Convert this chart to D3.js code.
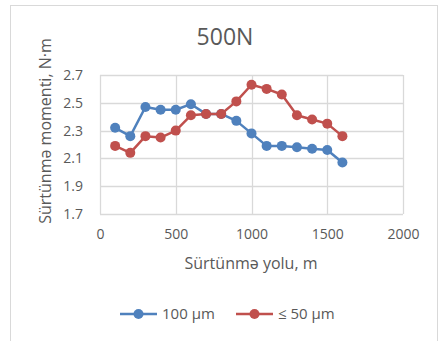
<!DOCTYPE html>
<html>
<head>
<meta charset="utf-8">
<script src="https://cdn.jsdelivr.net/npm/d3@7"></script>
<style>
  body { margin: 0; background: #fff; }
  text { font-family: "Open Sans", sans-serif; fill: #595959; }
</style>
</head>
<body>
<script>
var distance = [100, 200, 300, 400, 500, 600, 700, 800, 900, 1000, 1100, 1200, 1300, 1400, 1500, 1600];
var moment100 = [2.32, 2.26, 2.47, 2.45, 2.45, 2.49, 2.42, 2.42, 2.37, 2.28, 2.19, 2.19, 2.18, 2.17, 2.16, 2.07];
var moment50 = [2.19, 2.14, 2.26, 2.25, 2.30, 2.41, 2.42, 2.42, 2.51, 2.63, 2.60, 2.56, 2.41, 2.38, 2.35, 2.26];
var seriesNames = ["100 µm", "≤ 50 µm"];
var xTicks = [0, 500, 1000, 1500, 2000];
var yTicks = [1.7, 1.9, 2.1, 2.3, 2.5, 2.7];

var width = 440, height = 341;
var colors = ["#4F81BD", "#C0504D"];

var svg = d3.select("body").append("svg")
  .attr("width", width)
  .attr("height", height);

// chart frame
svg.append("rect")
  .attr("x", 10.5).attr("y", 5.5)
  .attr("width", 427).attr("height", 345)
  .attr("fill", "none")
  .attr("stroke", "#d9d9d9");

var x = d3.scaleLinear().domain([0, 2000]).range([100, 403]);
var y = d3.scaleLinear().domain([1.7, 2.7]).range([214, 75]);

// grid
svg.append("g").selectAll("line.h")
  .data(yTicks).enter().append("line")
  .attr("x1", x(0)).attr("x2", x(2000))
  .attr("y1", function(d){ return Math.round(y(d)) + 0.5; })
  .attr("y2", function(d){ return Math.round(y(d)) + 0.5; })
  .attr("stroke", "#d9d9d9").attr("stroke-width", 1.3);
svg.append("g").selectAll("line.v")
  .data(xTicks).enter().append("line")
  .attr("y1", y(1.7)).attr("y2", y(2.7))
  .attr("x1", function(d){ return Math.round(x(d)) + 0.5; })
  .attr("x2", function(d){ return Math.round(x(d)) + 0.5; })
  .attr("stroke", "#d9d9d9").attr("stroke-width", 1.3);

// axes (labels only)
var xAxis = svg.append("g")
  .attr("transform", "translate(0," + 214 + ")")
  .call(d3.axisBottom(x).tickValues(xTicks).tickSize(0).tickPadding(15).tickFormat(d3.format("d")));
var yAxis = svg.append("g")
  .attr("transform", "translate(100,0)")
  .call(d3.axisLeft(y).tickValues(yTicks).tickSize(0).tickPadding(17).tickFormat(d3.format(".1f")));
[xAxis, yAxis].forEach(function(a){
  a.select(".domain").remove();
  a.selectAll("text").style("font-family", "Open Sans").style("font-size", "14px").attr("fill", "#595959");
});

// series
var seriesData = [moment100, moment50];
var line = d3.line()
  .x(function(d, i){ return x(distance[i]); })
  .y(function(d){ return y(d); });

seriesData.forEach(function(vals, k){
  var g = svg.append("g");
  g.append("path")
    .datum(vals)
    .attr("d", line)
    .attr("fill", "none")
    .attr("stroke", colors[k])
    .attr("stroke-width", 2.5)
    .attr("stroke-linejoin", "round");
  g.selectAll("circle")
    .data(vals).enter().append("circle")
    .attr("cx", function(d, i){ return x(distance[i]); })
    .attr("cy", function(d){ return y(d); })
    .attr("r", 5)
    .attr("fill", colors[k]);
});

// title
svg.append("text")
  .attr("x", 225).attr("y", 45)
  .attr("text-anchor", "middle")
  .style("font-size", "23px")
  .text("500N");

// axis titles
svg.append("text")
  .attr("x", 251).attr("y", 269)
  .attr("text-anchor", "middle")
  .style("font-size", "16px")
  .text("Sürtünmə yolu, m");
svg.append("text")
  .attr("transform", "translate(51,131) rotate(-90)")
  .attr("text-anchor", "middle")
  .style("font-size", "16px")
  .text("Sürtünmə momenti, N·m");

// legend
var legendX = [120, 236];
seriesNames.forEach(function(name, k){
  var lg = svg.append("g").attr("transform", "translate(" + legendX[k] + ",314)");
  lg.append("line")
    .attr("x1", 0).attr("x2", 37)
    .attr("stroke", colors[k]).attr("stroke-width", 2.5);
  lg.append("circle")
    .attr("cx", 18.5).attr("r", 5)
    .attr("fill", colors[k]);
  lg.append("text")
    .attr("x", 42).attr("y", 5)
    .style("font-size", "15px")
    .text(name);
});
</script>
</body>
</html>
